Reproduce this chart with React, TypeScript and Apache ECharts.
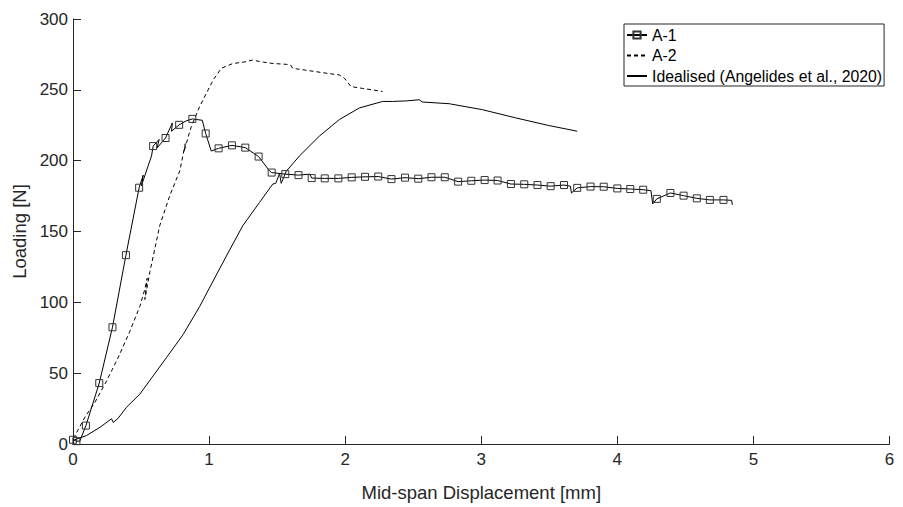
import React, { useEffect, useRef } from "react";
import * as echarts from "echarts";

// Series names
const seriesNames = ["A-1", "A-2", "Idealised (Angelides et al., 2020)"];

// A-1: [displacement mm, load N, marker shown (1) or not (0)]
const a1Points: [number, number, number][] = [
  [0, 3, 1], [0.025, 2, 1], [0.05, 2, 0], [0.095, 13, 1], [0.193, 43, 1],
  [0.29, 82.4, 1], [0.389, 133.3, 1], [0.486, 180.9, 1], [0.516, 189.8, 0],
  [0.503, 182.3, 0], [0.552, 196.3, 0], [0.577, 203.3, 0], [0.589, 210.3, 1],
  [0.633, 215, 0], [0.618, 209, 0], [0.68, 216, 1], [0.73, 226.6, 0],
  [0.724, 220.8, 0], [0.78, 225.3, 1], [0.83, 228, 0], [0.877, 229.5, 1],
  [0.95, 228.5, 0], [0.975, 219.2, 1], [1.016, 206.8, 0], [1.07, 208.7, 1],
  [1.168, 210.8, 1], [1.266, 209.2, 1], [1.364, 202.9, 1], [1.444, 192.8, 0],
  [1.46, 191.6, 1], [1.56, 190.5, 1], [1.657, 189.8, 1], [1.74, 190.5, 0],
  [1.754, 187.7, 1], [1.85, 187.5, 1], [1.95, 187.5, 1], [2.048, 188.2, 1],
  [2.146, 188.6, 1], [2.243, 188.8, 1], [2.34, 187, 1], [2.44, 188, 1],
  [2.537, 187.3, 1], [2.634, 188.3, 1], [2.732, 188.3, 1], [2.83, 185.2, 1],
  [2.927, 185.8, 1], [3.025, 186.3, 1], [3.12, 186, 1], [3.218, 183.5, 1],
  [3.316, 183.3, 1], [3.413, 182.8, 1], [3.51, 182, 1], [3.608, 182.8, 1],
  [3.655, 182, 0], [3.663, 177.2, 0], [3.705, 180.8, 1], [3.803, 181.7, 1],
  [3.9, 181.6, 1], [4.0, 180.4, 1], [4.095, 180, 1], [4.19, 179.5, 1],
  [4.247, 178.8, 0], [4.26, 169.5, 0], [4.29, 173, 1], [4.39, 177.2, 1],
  [4.487, 175.3, 1], [4.584, 173.4, 1], [4.68, 172.3, 1], [4.78, 172.3, 1],
  [4.84, 172, 0], [4.845, 168.8, 0],
];

// A-2: [displacement mm, load N]
const a2Points: [number, number][] = [
  [0, 4], [0.015, 6], [0.088, 19], [0.161, 29.4], [0.247, 44.6], [0.332, 61],
  [0.418, 79.6], [0.491, 97.1], [0.53, 110], [0.545, 117], [0.528, 102],
  [0.565, 121.6], [0.638, 154.3], [0.711, 175.3], [0.785, 192.8], [0.825, 212],
  [0.815, 206], [0.85, 218], [0.87, 224.3], [0.931, 238.3], [1.03, 257],
  [1.09, 265.2], [1.175, 268.6], [1.25, 269.5], [1.32, 271], [1.4, 269.5],
  [1.47, 268.6], [1.567, 268], [1.6, 267.5], [1.615, 265.2], [1.664, 264.5],
  [1.787, 262.8], [1.88, 261.5], [1.957, 260.5], [1.994, 258.2], [2.043, 252.3],
  [2.128, 251], [2.2, 250], [2.275, 248.8],
];

// Idealised (Angelides et al., 2020): [displacement mm, load N]
const idealPoints: [number, number][] = [
  [0, 2.6], [0.1, 6], [0.2, 11.9], [0.283, 17.8], [0.296, 15.2], [0.33, 18],
  [0.393, 25.9], [0.491, 35.2], [0.589, 48.1], [0.687, 61], [0.809, 77.2],
  [0.931, 97.1], [1.053, 119.3], [1.15, 136.8], [1.249, 154.3], [1.371, 170.6],
  [1.468, 183.5], [1.49, 184], [1.518, 191], [1.53, 184], [1.567, 192.5],
  [1.664, 203.3], [1.81, 217.3], [1.957, 229], [2.104, 237.2], [2.275, 241.8],
  [2.348, 241.8], [2.45, 242.2], [2.544, 243], [2.568, 241.4], [2.764, 240.2],
  [3.008, 236], [3.253, 230.2], [3.497, 224.8], [3.705, 220.8],
];

const xAxisTitle = "Mid-span Displacement [mm]";
const yAxisTitle = "Loading [N]";

const FONT = "'Liberation Sans', Arial, Helvetica, sans-serif";
const AXIS_COLOR = "#262626";

export default function App() {
  const ref = useRef<HTMLDivElement>(null);

  useEffect(() => {
    document.body.style.margin = "0";
    if (!ref.current) return;
    const chart = echarts.init(ref.current, undefined, { renderer: "svg" });

    const a1Data = a1Points.map(([x, y, m]) =>
      m ? { value: [x, y] } : { value: [x, y], symbol: "none" }
    );

    const axisCommon = {
      type: "value" as const,
      splitLine: { show: false },
      axisLine: { show: true, lineStyle: { color: AXIS_COLOR, width: 1 } },
      axisTick: { show: true, inside: true, length: 8, lineStyle: { color: AXIS_COLOR } },
      axisLabel: { color: AXIS_COLOR, fontSize: 17, fontFamily: FONT },
      nameLocation: "middle" as const,
      nameTextStyle: { color: AXIS_COLOR, fontSize: 18.5, fontFamily: FONT },
    };

    const hiddenSymbol = { opacity: 0, borderWidth: 0 };

    chart.setOption({
      animation: false,
      backgroundColor: "#ffffff",
      grid: { left: 73, right: 13.5, top: 19, bottom: 60, containLabel: false },
      legend: {
        orient: "vertical",
        left: 624,
        top: 24,
        padding: [3, 2, 2, 2],
        itemGap: 4.5,
        itemWidth: 20,
        itemHeight: 9,
        borderColor: AXIS_COLOR,
        borderWidth: 1,
        backgroundColor: "#ffffff",
        textStyle: { color: "#000", fontSize: 15.8, fontFamily: FONT },
        data: [
          { name: seriesNames[0] },
          { name: seriesNames[1], itemStyle: hiddenSymbol },
          { name: seriesNames[2], itemStyle: hiddenSymbol },
        ],
      },
      xAxis: {
        ...axisCommon,
        min: 0,
        max: 6,
        interval: 1,
        name: xAxisTitle,
        nameGap: 39,
        axisLabel: { ...axisCommon.axisLabel, margin: 7 },
      },
      yAxis: {
        ...axisCommon,
        min: 0,
        max: 300,
        interval: 50,
        name: yAxisTitle,
        nameGap: 44,
        axisLabel: { ...axisCommon.axisLabel, margin: 5 },
      },
      series: [
        {
          name: seriesNames[0],
          type: "line",
          data: a1Data,
          symbol: "rect",
          symbolSize: 7,
          showSymbol: true,
          itemStyle: { color: "rgba(255,255,255,0)", borderColor: "#333333", borderWidth: 1 },
          lineStyle: { color: "#000000", width: 1 },
          emphasis: { disabled: true },
          z: 3,
        },
        {
          name: seriesNames[1],
          type: "line",
          data: a2Points,
          symbol: "none",
          itemStyle: { color: "#000000" },
          lineStyle: { color: "#000000", width: 1, type: [4, 3] },
          emphasis: { disabled: true },
          z: 2,
        },
        {
          name: seriesNames[2],
          type: "line",
          data: idealPoints,
          symbol: "none",
          itemStyle: { color: "#000000" },
          lineStyle: { color: "#000000", width: 1 },
          emphasis: { disabled: true },
          z: 2,
        },
      ],
    });

    return () => chart.dispose();
  }, []);

  return (
    <div
      ref={ref}
      style={{ position: "fixed", left: 0, top: 0, width: 903, height: 507, background: "#fff" }}
    />
  );
}
